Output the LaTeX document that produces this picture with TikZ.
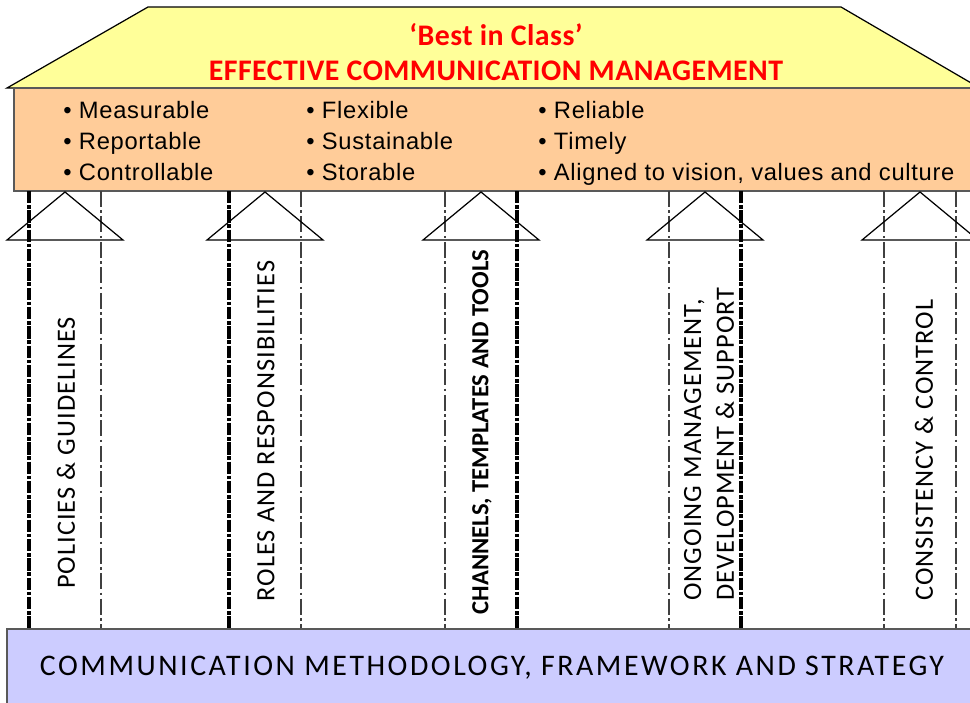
\documentclass[tikz,border=0pt]{standalone}
\usepackage{fontspec}
\setmainfont{Carlito}
\newfontfamily\slidefont[LetterSpace=4]{Carlito}
\newfontfamily\basefont[LetterSpace=8.5]{Carlito}
\newfontfamily\headfont[LetterSpace=1.5]{Carlito}
\newfontfamily\tightfont{Carlito}
\newfontfamily\bulletfont[LetterSpace=3]{Liberation Sans}
\definecolor{roofyellow}{HTML}{FFFF99}
\definecolor{beamorange}{HTML}{FFCC99}
\definecolor{baseblue}{HTML}{CCCCFF}
\definecolor{titlered}{HTML}{FF0000}
\tikzset{
  /tikz/.cd,
  shaft/.style={draw=black!75,line width=0.6pt,dash pattern=on 9pt off 2pt on 1.5pt off 2pt},
  heavyshaft/.style={draw=black,line width=2.4pt,dash pattern=on 7pt off 1pt on 2pt off 1pt},
  head/.style={draw=black,line width=0.7pt},
  pillartext/.style={rotate=90,font=\slidefont\fontsize{15}{18.7}\selectfont,align=left}
}

\begin{document}
\begin{tikzpicture}[x=0.2mm,y=-0.2mm,
                    title/.style={text=titlered,font=\headfont\bfseries\fontsize{17}{20}\selectfont},
                    qualities/.style={font=\bulletfont\fontsize{13.5}{17.6}\selectfont,align=left,inner sep=0pt,anchor=north west}]
  \useasboundingbox (0,0) rectangle (970,702);
  \clip (0,0) rectangle (970,702);

  % roof
  \draw[fill=roofyellow,line width=0.7pt] (7,88) -- (148,7) -- (841,7) -- (990,94) -- cycle;
  \node[title] (best) at (496,35) {‘Best in Class’};
  \node[title] (ecm) at (496,71) {EFFECTIVE COMMUNICATION MANAGEMENT};

  % beam
  \draw[fill=beamorange,draw=black!65,line width=0.7pt] (14,88) rectangle (990,191);
  \node[qualities] (col1) at (63,101) {• Measurable\\• Reportable\\• Controllable};
  \node[qualities] (col2) at (306,101) {• Flexible\\• Sustainable\\• Storable};
  \node[qualities] (col3) at (538,101) {• Reliable\\• Timely\\• Aligned to vision, values and culture};

  % pillars
  \foreach \c/\l/\r in {65/heavyshaft/shaft,265/heavyshaft/shaft,481/shaft/heavyshaft,705/shaft/heavyshaft,920/shaft/shaft}{
    \draw[\l] (\c-36,191) -- (\c-36,629);
    \draw[\r] (\c+36,191) -- (\c+36,629);
    \draw[head] (\c-58,240) -- (\c,192) -- (\c+58,240) -- cycle;
  }
  \node[pillartext] (policies) at (66,453) {POLICIES \& GUIDELINES};
  \node[pillartext] (roles) at (266,431) {ROLES AND RESPONSIBILITIES};
  \node[pillartext,font=\tightfont\bfseries\fontsize{14}{18}\selectfont] (channels) at (482,432) {CHANNELS, TEMPLATES AND TOOLS};
  \node[pillartext] (ongoing) at (709,444) {ONGOING MANAGEMENT,\\DEVELOPMENT \& SUPPORT};
  \node[pillartext] (consistency) at (924,450) {CONSISTENCY \& CONTROL};

  % foundation
  \draw[fill=baseblue,draw=black!65,line width=0.7pt] (7,629) rectangle (990,710);
  \node[font=\basefont\fontsize{17}{20}\selectfont] (method) at (492,668) {COMMUNICATION METHODOLOGY, FRAMEWORK AND STRATEGY};
\end{tikzpicture}
\end{document}
